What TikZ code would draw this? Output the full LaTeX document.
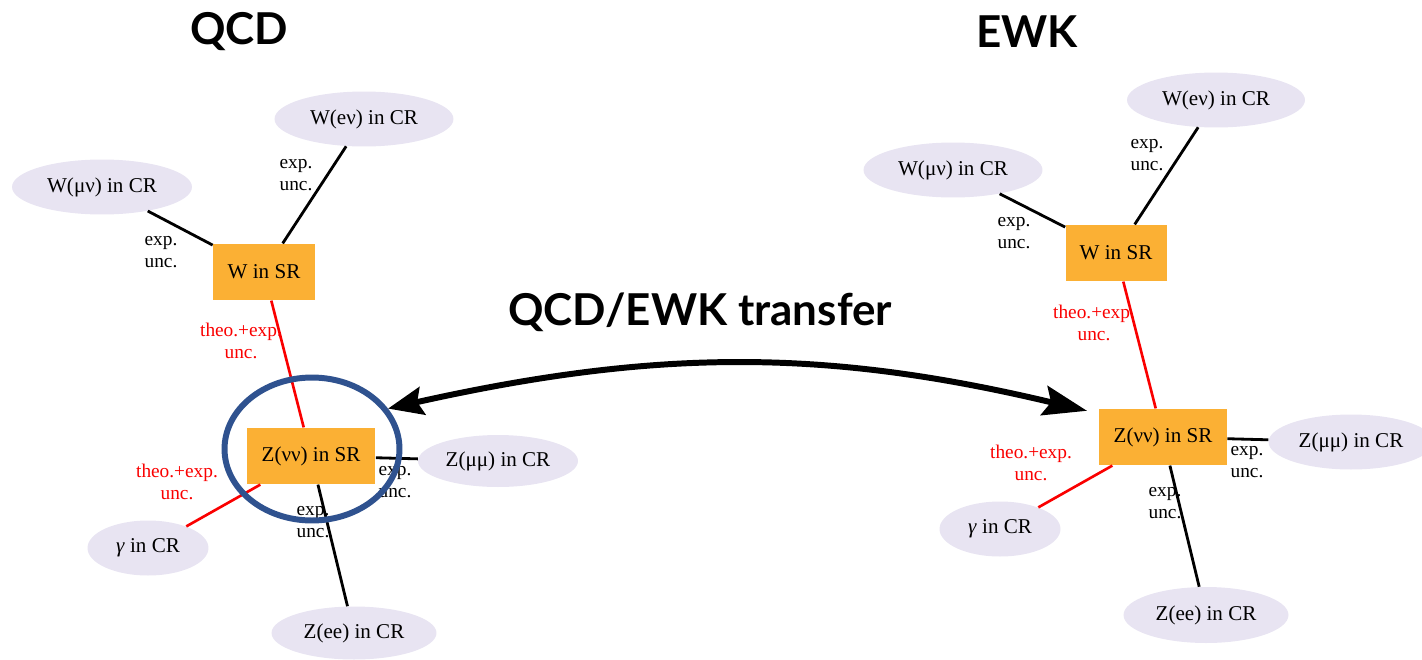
\documentclass[tikz,border=0pt]{standalone}
\usepackage{fontspec}
\setmainfont{Liberation Serif}
\newfontfamily\titlefont{Lato}
\usetikzlibrary{arrows.meta,shapes.geometric}
\definecolor{srorange}{RGB}{251,176,52}
\definecolor{crlavender}{RGB}{232,228,242}
\definecolor{ringblue}{RGB}{47,82,143}
\definecolor{theored}{RGB}{250,0,0}

\tikzset{
  srbox/.style={rectangle,fill=srorange,inner sep=0pt,minimum height=1.13cm,
    font=\fontsize{12}{14}\selectfont},
  crell/.style={ellipse,fill=crlavender,inner sep=0pt,minimum height=1.1cm,
    font=\fontsize{12}{14}\selectfont},
  explink/.style={black,line width=1.6pt},
  theolink/.style={theored,line width=1.5pt},
  unc/.style={align=center,inner sep=0pt,font=\fontsize{11}{12.5}\selectfont},
  theounc/.style={unc,text=theored},
  heading/.style={font=\titlefont\bfseries\fontsize{25}{30}\selectfont}
}

\begin{document}
\begin{tikzpicture}[x=0.02cm,y=-0.02cm]
  \useasboundingbox (0,0) rectangle (1422,659);

  \node[heading] (tqcd) at (239,32) {QCD};
  \node[heading] (tewk) at (1027,32) {EWK};
  \node[heading] (ttrans) at (700,312) {QCD/EWK transfer};

  % QCD graph
  \node[crell,minimum width=3.58cm] (weL) at (364,119) {W(eν) in CR};
  \node[crell,minimum width=3.6cm] (wmL) at (102,187) {W(μν) in CR};
  \node[srbox,minimum width=2.04cm] (wsrL) at (264,272) {W in SR};
  \node[srbox,minimum width=2.58cm] (zsrL) at (311,456) {Z(νν) in SR};
  \node[crell,minimum width=3.2cm,minimum height=1.04cm] (zmL) at (498,461) {Z(μμ) in CR};
  \node[crell,minimum width=2.42cm] (gL) at (148,548) {\textit{γ} in CR};
  \node[crell,minimum width=3.3cm,minimum height=1.06cm] (zeL) at (354,633) {Z(ee) in CR};

  \draw[explink] (wmL) -- (wsrL);
  \draw[explink] (weL) -- (wsrL);
  \draw[theolink] (wsrL) -- (zsrL);
  \draw[explink] (zsrL) -- (zmL);
  \draw[theolink] (zsrL) -- (gL);
  \draw[explink] (zsrL) -- (zeL);

  \node[unc] (uwmL) at (161,252) {exp.\\unc.};
  \node[unc] (uweL) at (296,175) {exp.\\unc.};
  \node[theounc] (uwzL) at (241,341) {theo.+exp.\\unc.};
  \node[theounc] (ugL) at (177,482) {theo.+exp.\\unc.};
  \node[unc] (uzmL) at (395,482) {exp.\\unc.};
  \node[unc] (uzeL) at (313,522) {exp.\\unc.};

  % EWK graph
  \node[crell,minimum width=3.56cm] (weR) at (1216,100) {W(eν) in CR};
  \node[crell,minimum width=3.58cm] (wmR) at (953,170) {W(μν) in CR};
  \node[srbox,minimum width=2.02cm] (wsrR) at (1116,253) {W in SR};
  \node[srbox,minimum width=2.56cm] (zsrR) at (1163,437) {Z(νν) in SR};
  \node[crell,minimum width=3.3cm] (zmR) at (1351,442) {Z(μμ) in CR};
  \node[crell,minimum width=2.42cm] (gR) at (1000,529) {\textit{γ} in CR};
  \node[crell,minimum width=3.3cm,minimum height=1.12cm] (zeR) at (1206,615) {Z(ee) in CR};

  \draw[explink] (wmR) -- (wsrR);
  \draw[explink] (weR) -- (wsrR);
  \draw[theolink] (wsrR) -- (zsrR);
  \draw[explink] (zsrR) -- (zmR);
  \draw[theolink] (zsrR) -- (gR);
  \draw[explink] (zsrR) -- (zeR);

  \node[unc] (uwmR) at (1014,233) {exp.\\unc.};
  \node[unc] (uweR) at (1147,155) {exp.\\unc.};
  \node[theounc] (uwzR) at (1094,323) {theo.+exp.\\unc.};
  \node[theounc] (ugR) at (1031,463) {theo.+exp.\\unc.};
  \node[unc] (uzmR) at (1247,462) {exp.\\unc.};
  \node[unc] (uzeR) at (1165,503) {exp.\\unc.};

  % highlight and transfer
  \node[ellipse,draw=ringblue,line width=3.4pt,minimum width=3.5cm,minimum height=2.86cm] (ring) at (312,449) {};
  \draw[line width=3.4pt,{Stealth[length=20pt,width=16pt,inset=3pt]}-{Stealth[length=25pt,width=17pt,inset=4pt]},shorten >=0.24cm]
    (ring.28) to[bend left=13] (zsrR.160);
\end{tikzpicture}
\end{document}
